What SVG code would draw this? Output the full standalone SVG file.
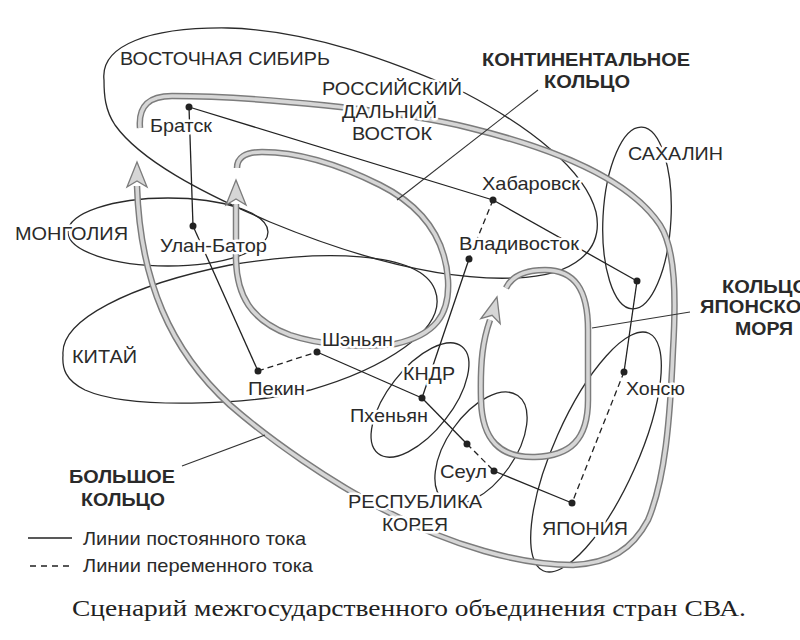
<svg xmlns="http://www.w3.org/2000/svg" width="800" height="640" viewBox="0 0 800 640">
<defs>
<style>
.bg{fill:#fff}
.reg{fill:none;stroke:#2a2a2a;stroke-width:1.3}
.ring-o{fill:none;stroke:#7c7c7c;stroke-width:6.5;stroke-linecap:butt}
.ring-i{fill:none;stroke:#d6d6d6;stroke-width:3.6;stroke-linecap:butt}
.ah{fill:#d6d6d6;stroke:#7c7c7c;stroke-width:1.3;stroke-linejoin:miter}
.ln{fill:none;stroke:#222;stroke-width:1.3}
.dash{stroke-dasharray:6 4}
.ld{fill:none;stroke:#333;stroke-width:1.1}
.dot{fill:#222}
text{font-family:"Liberation Sans",Arial,sans-serif;fill:#2a2a2a;stroke:#fff;stroke-width:5;stroke-linejoin:round;paint-order:stroke}
.r{font-size:19px}
.c{font-size:18.5px}
.b{font-size:19px;font-weight:bold}
.lg{font-size:18.5px;stroke:none}
.cap{font-family:"Liberation Serif","Times New Roman",serif;font-size:23.5px;stroke:none;fill:#222}
</style>
<path id="ah" d="M0,0 L-25,-10 L-19,0 L-25,10 Z"/>
</defs>
<rect class="bg" x="0" y="0" width="800" height="640"/>

<!-- region outlines -->
<g id="region-east-siberia">
<path class="reg" d="M104,80 C100,45 150,27 228,28 C310,30 395,62 465,93 C530,127 585,170 596,212 C604,250 575,276 515,278 C440,281 350,255 270,222 C200,192 140,160 115,125 C105,110 104,95 104,80 Z"/>
</g>
<g id="region-mongolia">
<ellipse class="reg" cx="168" cy="232" rx="100" ry="34"/>
</g>
<g id="region-china">
<path class="reg" d="M63,355 C60,320 130,285 230,265 C320,250 420,250 435,290 C450,330 380,370 310,390 C250,405 130,410 85,390 C65,380 62,368 63,355 Z"/>
</g>
<g id="region-sakhalin">
<ellipse class="reg" cx="637" cy="218" rx="34" ry="91" transform="rotate(3 637 218)"/>
</g>
<g id="region-dprk">
<ellipse class="reg" cx="420" cy="400" rx="68" ry="32" transform="rotate(-52 420 400)"/>
</g>
<g id="region-korea">
<ellipse class="reg" cx="481" cy="448" rx="64" ry="34" transform="rotate(-55 481 448)"/>
</g>
<g id="region-japan">
<ellipse class="reg" cx="596" cy="452" rx="130" ry="42" transform="rotate(-66 596 452)"/>
</g>

<!-- rings -->
<g id="ring-big">
<path class="ring-o" d="M140,128 C138,105 150,96 172,96 C250,96 400,110 470,128 C560,150 630,180 660,225 C676,250 676,300 673,350 C670,420 665,480 648,520 C632,550 610,563 573,565 C520,565 450,545 390,513 C330,482 270,440 230,405 C170,350 140,280 137,186"/>
<path class="ring-i" d="M140,128 C138,105 150,96 172,96 C250,96 400,110 470,128 C560,150 630,180 660,225 C676,250 676,300 673,350 C670,420 665,480 648,520 C632,550 610,563 573,565 C520,565 450,545 390,513 C330,482 270,440 230,405 C170,350 140,280 137,186"/>
<use href="#ah" class="ah" transform="translate(137,162) rotate(-90)"/>
</g>
<g id="ring-continental">
<path class="ring-o" d="M237,168 C237,158 245,152 262,152 C300,152 340,165 380,185 C420,205 445,235 448,280 C450,315 435,335 395,344 C360,348 320,345 290,335 C250,320 237,295 236,260 L236,204"/>
<path class="ring-i" d="M237,168 C237,158 245,152 262,152 C300,152 340,165 380,185 C420,205 445,235 448,280 C450,315 435,335 395,344 C360,348 320,345 290,335 C250,320 237,295 236,260 L236,204"/>
<use href="#ah" class="ah" transform="translate(236,180) rotate(-90)"/>
</g>
<g id="ring-japan-sea">
<path class="ring-o" d="M506,288 C512,276 525,270 545,270 C575,270 588,290 588,330 L588,400 C588,440 570,456 535,457 C500,458 482,440 481,400 C480,360 483,340 490,320"/>
<path class="ring-i" d="M506,288 C512,276 525,270 545,270 C575,270 588,290 588,330 L588,400 C588,440 570,456 535,457 C500,458 482,440 481,400 C480,360 483,340 490,320"/>
<use href="#ah" class="ah" transform="translate(497,297) rotate(-75)"/>
</g>

<!-- connectors -->
<g id="connectors">
<line class="ln" x1="189" y1="107" x2="193" y2="226"/>
<line class="ln" x1="189" y1="107" x2="493" y2="200"/>
<line class="ln" x1="193" y1="226" x2="258" y2="371"/>
<line class="ln dash" x1="258" y1="371" x2="317" y2="352"/>
<line class="ln" x1="317" y1="352" x2="422" y2="398"/>
<line class="ln" x1="422" y1="398" x2="469" y2="259"/>
<line class="ln dash" x1="493" y1="200" x2="469" y2="259"/>
<line class="ln" x1="493" y1="200" x2="637" y2="281"/>
<line class="ln" x1="637" y1="281" x2="624" y2="372"/>
<line class="ln dash" x1="624" y1="372" x2="572" y2="503"/>
<line class="ln" x1="422" y1="398" x2="467" y2="444"/>
<line class="ln dash" x1="467" y1="444" x2="494" y2="471"/>
<line class="ln" x1="494" y1="471" x2="572" y2="503"/>
</g>
<g id="leaders">
<line class="ld" x1="538" y1="90" x2="397" y2="200"/>
<line class="ld" x1="690" y1="312" x2="592" y2="328"/>
<line class="ld" x1="182" y1="466" x2="265" y2="435"/>
</g>

<!-- region labels -->
<g id="label-east-siberia"><text class="r" x="120" y="65" textLength="210" lengthAdjust="spacingAndGlyphs">ВОСТОЧНАЯ СИБИРЬ</text></g>
<g id="label-far-east">
<text class="r" x="322" y="95" textLength="140" lengthAdjust="spacingAndGlyphs">РОССИЙСКИЙ</text>
<text class="r" x="342" y="118" textLength="95" lengthAdjust="spacingAndGlyphs">ДАЛЬНИЙ</text>
<text class="r" x="352" y="140" textLength="80" lengthAdjust="spacingAndGlyphs">ВОСТОК</text>
</g>
<g id="label-mongolia"><text class="r" x="15" y="240" textLength="113" lengthAdjust="spacingAndGlyphs">МОНГОЛИЯ</text></g>
<g id="label-china"><text class="r" x="72" y="363" textLength="65" lengthAdjust="spacingAndGlyphs">КИТАЙ</text></g>
<g id="label-sakhalin"><text class="r" x="628" y="160" textLength="95" lengthAdjust="spacingAndGlyphs">САХАЛИН</text></g>
<g id="label-dprk"><text class="r" x="403" y="380" textLength="52" lengthAdjust="spacingAndGlyphs">КНДР</text></g>
<g id="label-korea">
<text class="r" x="348" y="508" textLength="134" lengthAdjust="spacingAndGlyphs">РЕСПУБЛИКА</text>
<text class="r" x="382" y="531" textLength="66" lengthAdjust="spacingAndGlyphs">КОРЕЯ</text>
</g>
<g id="label-japan"><text class="r" x="542" y="535" textLength="86" lengthAdjust="spacingAndGlyphs">ЯПОНИЯ</text></g>

<!-- ring labels -->
<g id="label-continental">
<text class="b" x="482" y="66" textLength="208" lengthAdjust="spacingAndGlyphs">КОНТИНЕНТАЛЬНОЕ</text>
<text class="b" x="544" y="88" textLength="86" lengthAdjust="spacingAndGlyphs">КОЛЬЦО</text>
</g>
<g id="label-japan-sea">
<text class="b" x="722" y="293" textLength="86" lengthAdjust="spacingAndGlyphs">КОЛЬЦО</text>
<text class="b" x="700" y="313" textLength="128" lengthAdjust="spacingAndGlyphs">ЯПОНСКОГО</text>
<text class="b" x="735" y="335" textLength="58" lengthAdjust="spacingAndGlyphs">МОРЯ</text>
</g>
<g id="label-big">
<text class="b" x="69" y="483" textLength="106" lengthAdjust="spacingAndGlyphs">БОЛЬШОЕ</text>
<text class="b" x="81" y="506" textLength="84" lengthAdjust="spacingAndGlyphs">КОЛЬЦО</text>
</g>

<!-- city nodes -->
<g id="node-bratsk"><circle class="dot" cx="189" cy="107" r="3.5"/><text class="c" x="150" y="132" textLength="62" lengthAdjust="spacingAndGlyphs">Братск</text></g>
<g id="node-ulaanbaatar"><circle class="dot" cx="193" cy="226" r="3.5"/><text class="c" x="160" y="252" textLength="107" lengthAdjust="spacingAndGlyphs">Улан-Батор</text></g>
<g id="node-beijing"><circle class="dot" cx="258" cy="371" r="3.5"/><text class="c" x="248" y="395" textLength="57" lengthAdjust="spacingAndGlyphs">Пекин</text></g>
<g id="node-shenyang"><circle class="dot" cx="317" cy="352" r="3.5"/><text class="c" x="322" y="346" textLength="71" lengthAdjust="spacingAndGlyphs">Шэньян</text></g>
<g id="node-pyongyang"><circle class="dot" cx="422" cy="398" r="3.5"/><text class="c" x="350" y="422" textLength="78" lengthAdjust="spacingAndGlyphs">Пхеньян</text></g>
<g id="node-border"><circle class="dot" cx="467" cy="444" r="3.5"/></g>
<g id="node-seoul"><circle class="dot" cx="494" cy="471" r="3.5"/><text class="c" x="440" y="478" textLength="47" lengthAdjust="spacingAndGlyphs">Сеул</text></g>
<g id="node-khabarovsk"><circle class="dot" cx="493" cy="200" r="3.5"/><text class="c" x="482" y="190" textLength="98" lengthAdjust="spacingAndGlyphs">Хабаровск</text></g>
<g id="node-vladivostok"><circle class="dot" cx="469" cy="259" r="3.5"/><text class="c" x="459" y="250" textLength="120" lengthAdjust="spacingAndGlyphs">Владивосток</text></g>
<g id="node-sakhalin"><circle class="dot" cx="637" cy="281" r="3.5"/></g>
<g id="node-honshu"><circle class="dot" cx="624" cy="372" r="3.5"/><text class="c" x="626" y="395" textLength="59" lengthAdjust="spacingAndGlyphs">Хонсю</text></g>
<g id="node-japan"><circle class="dot" cx="572" cy="503" r="3.5"/></g>

<!-- legend -->
<g id="legend">
<line class="ln" x1="28" y1="538" x2="72" y2="538"/>
<text class="lg" x="83" y="545" textLength="223" lengthAdjust="spacingAndGlyphs">Линии постоянного тока</text>
<line class="ln dash" x1="30" y1="566" x2="72" y2="566" style="stroke-dasharray:6 5"/>
<text class="lg" x="83" y="572" textLength="230" lengthAdjust="spacingAndGlyphs">Линии переменного тока</text>
</g>
<g id="caption">
<text class="cap" x="72" y="616" textLength="674" lengthAdjust="spacingAndGlyphs">Сценарий межгосударственного объединения стран СВА.</text>
</g>
</svg>
